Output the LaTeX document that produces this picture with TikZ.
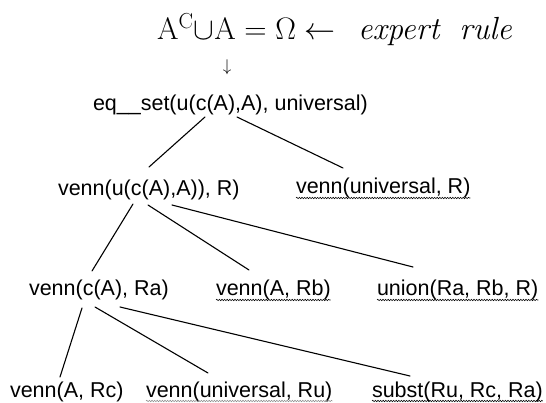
\RequirePackage{fix-cm}
\documentclass[tikz,border=0pt]{standalone}
\usepackage{fontspec}
\newfontfamily\hv{Liberation Sans}
\usetikzlibrary{decorations.pathmorphing}
\tikzset{
  lbl/.style={inner sep=0pt, outer sep=0pt, anchor=base west, font=\hv\fontsize{21.5}{24}\selectfont},
  edge/.style={line width=1.1pt, line cap=round},
  wavy/.style={line width=0.55pt, decorate, decoration={snake, amplitude=0.7pt, segment length=2.6pt}},
}
\begin{document}
\begin{tikzpicture}[x=1pt,y=-1pt]
\useasboundingbox (0,0) rectangle (546,403);
\node[inner sep=0pt, anchor=base west, font=\fontsize{31}{33}\selectfont] (t) at (157,40)
  {$\mathrm{A}^{\mathrm{C}}{\cup}\mathrm{A} = \Omega \leftarrow$};
\node[inner sep=0pt, anchor=base west, font=\fontsize{32}{34}\selectfont\itshape] (ex) at (358,40)
  {expert\hspace{20pt}rule};
\node[inner sep=0pt, font=\fontsize{17}{19}\selectfont] (da) at (227,67) {$\downarrow$};
\node[lbl] (eq) at (93,111) {eq\_\_set(u(c(A),A), universal)};
\node[lbl] (v1) at (58,196) {venn(u(c(A),A)), R)};
\node[lbl] (v2) at (296,194) {venn(universal, R)};
\node[lbl] (ca) at (29,296) {venn(c(A), Ra)};
\node[lbl] (vb) at (216,296) {venn(A, Rb)};
\node[lbl] (un) at (377,296) {union(Ra, Rb, R)};
\node[lbl] (b1) at (10,397) {venn(A, Rc)};
\node[lbl] (b2) at (146,397) {venn(universal, Ru)};
\node[lbl] (b3) at (372,397) {subst(Ru, Rc, Ra)};
% connectors
\draw[edge] ([shift={(112,6)}]eq.base west) -- ([shift={(91,-29)}]v1.base west);
\draw[edge] ([shift={(144,6)}]eq.base west) -- ([shift={(47,-26)}]v2.base west);
\draw[edge] ([shift={(75,8)}]v1.base west) -- ([shift={(63,-25)}]ca.base west);
\draw[edge] ([shift={(90,9)}]v1.base west) -- ([shift={(33,-26)}]vb.base west);
\draw[edge] ([shift={(114,9)}]v1.base west) -- ([shift={(36,-29)}]un.base west);
\draw[edge] ([shift={(53,12)}]ca.base west) -- ([shift={(50,-20)}]b1.base west);
\draw[edge] ([shift={(66,11)}]ca.base west) -- ([shift={(62,-24)}]b2.base west);
\draw[edge] ([shift={(91,11)}]ca.base west) -- ([shift={(38,-21)}]b3.base west);
% wavy underlines
\draw[wavy] ([shift={(0,4)}]v2.base west) -- ([shift={(0,4)}]v2.base east);
\draw[wavy] ([shift={(0,4)}]vb.base west) -- ([shift={(0,4)}]vb.base east);
\draw[wavy] ([shift={(0,4)}]un.base west) -- ([shift={(0,4)}]un.base east);
\draw[wavy, black!45] ([shift={(0,4)}]b2.base west) -- ([shift={(0,4)}]b2.base east);
\draw[wavy] ([shift={(0,4)}]b3.base west) -- ([shift={(0,4)}]b3.base east);
\end{tikzpicture}
\end{document}
